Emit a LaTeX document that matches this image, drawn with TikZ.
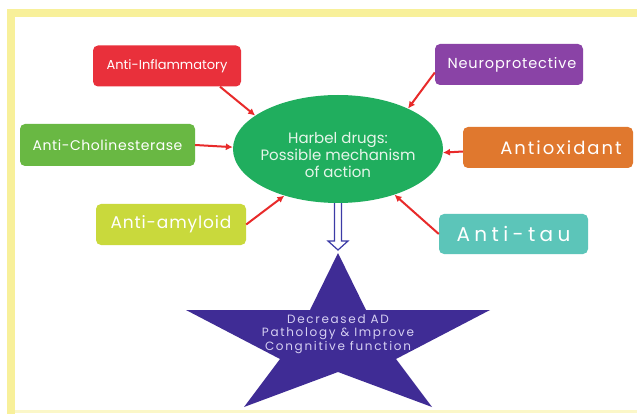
\documentclass[tikz,border=0pt]{standalone}
\usepackage{fontspec}
\setmainfont{Poppins}
\usetikzlibrary{shapes.geometric,arrows.meta,calc}
\definecolor{framecol}{HTML}{F8F09A}
\definecolor{framelite}{HTML}{FBF7C8}
\definecolor{cred}{HTML}{E9303B}
\definecolor{cpurple}{HTML}{8A43A6}
\definecolor{cgreen}{HTML}{69B843}
\definecolor{corange}{HTML}{E0782E}
\definecolor{cyg}{HTML}{C9D93C}
\definecolor{cteal}{HTML}{5CC5B9}
\definecolor{cell}{HTML}{20AE5E}
\definecolor{cstar}{HTML}{3F2C95}
\definecolor{carrow}{HTML}{E82A2A}
\definecolor{chollow}{HTML}{3C3BA6}
\definecolor{cstartext}{HTML}{D6D0F2}
\definecolor{celltext}{HTML}{E6F5EA}
\newcommand{\fsz}[2]{\fontsize{#1}{#1}\selectfont\addfontfeatures{LetterSpace=#2}}
\tikzset{
  mbox/.style={draw=none, rounded corners=5pt, text=white, inner sep=0pt, align=center},
  redarrow/.style={draw=carrow, line width=2pt, -{Latex[length=7pt,width=7pt]}},
  hollow/.style={draw=chollow, fill=white, line width=1.2pt, line join=miter},
}
\begin{document}
\begin{tikzpicture}[x=1pt,y=-1pt]
\useasboundingbox (0,0) rectangle (637,414);
\fill[white] (0,0) rectangle (637,414);
% frame
\draw[framelite, line width=3pt] (10.5,411) -- (640,411);
\draw[framecol, line width=8pt] (10.5,416) -- (10.5,13.5) -- (640,13.5);

% boxes
\node[mbox, fill=cred, minimum width=148pt, minimum height=41pt, font=\fsz{13}{0}] (ai) at (167,66) {Anti-Inflammatory};
\node[mbox, fill=cgreen, minimum width=175pt, minimum height=42pt, font=\fsz{14}{4}] (ch) at (107.5,145) {Anti-Cholinesterase};
\node[mbox, fill=cyg, minimum width=150pt, minimum height=41pt, font=\fsz{17}{5}] (am) at (171,224.5) {Anti-amyloid};
\node[mbox, fill=cpurple, minimum width=148pt, minimum height=41pt, font=\fsz{14.5}{6}] (np) at (509,64.5) {\hspace*{6pt}Neuroprotective};
\node[mbox, fill=corange, minimum width=170pt, minimum height=41pt, font=\fsz{18}{11}] (ao) at (548,147.5) {\hspace*{26pt}Antioxidant};
\node[mbox, fill=cteal, minimum width=149pt, minimum height=40pt, font=\fsz{20}{22}] (at) at (513.5,234) {Anti-tau};

% star
\fill[cstar] (338,253) -- (366,310) -- (490,310) -- (396,359) -- (432,407) -- (338,372) -- (244,407) -- (280,359) -- (186,310) -- (310,310) -- cycle;
\coordinate (sttop) at (338,250);
\node[text=cstartext, align=center, font=\fontsize{12}{13.5}\selectfont\addfontfeatures{LetterSpace=14}] (st) at (338,334) {Decreased AD\\Pathology \& Improve\\Congnitive function};

% hollow arrow (drawn before ellipse so its top is hidden)
\coordinate (shtop) at (338,198);
\draw[hollow] ($(shtop)+(-3.5,0)$) -- ($(sttop)+(-3.5,-9)$) -- ($(sttop)+(-10,-9)$) -- (sttop) -- ($(sttop)+(10,-9)$) -- ($(sttop)+(3.5,-9)$) -- ($(shtop)+(3.5,0)$) -- cycle;

% ellipse
\node[ellipse, fill=cell, minimum width=210pt, minimum height=108pt, inner sep=0pt] (hb) at (338,149) {};
\node[text=celltext, align=center, font=\fontsize{15}{17}\selectfont] (hbt) at (338,155) {Harbel drugs:\\Possible mechanism\\of action};

% arrows
\draw[redarrow] ($(ai.south)+(53,0)$) -- (hb.158);
\draw[redarrow] (ch.east) -- (hb.179);
\draw[redarrow] (am.east) -- (hb.221);
\draw[redarrow] ($(np.west)+(0,8)$) -- (hb.30);
\draw[redarrow] ($(ao.west)+(0,4)$) -- (hb.-2);
\draw[redarrow] (at.west) -- (hb.-39);
\end{tikzpicture}
\end{document}
